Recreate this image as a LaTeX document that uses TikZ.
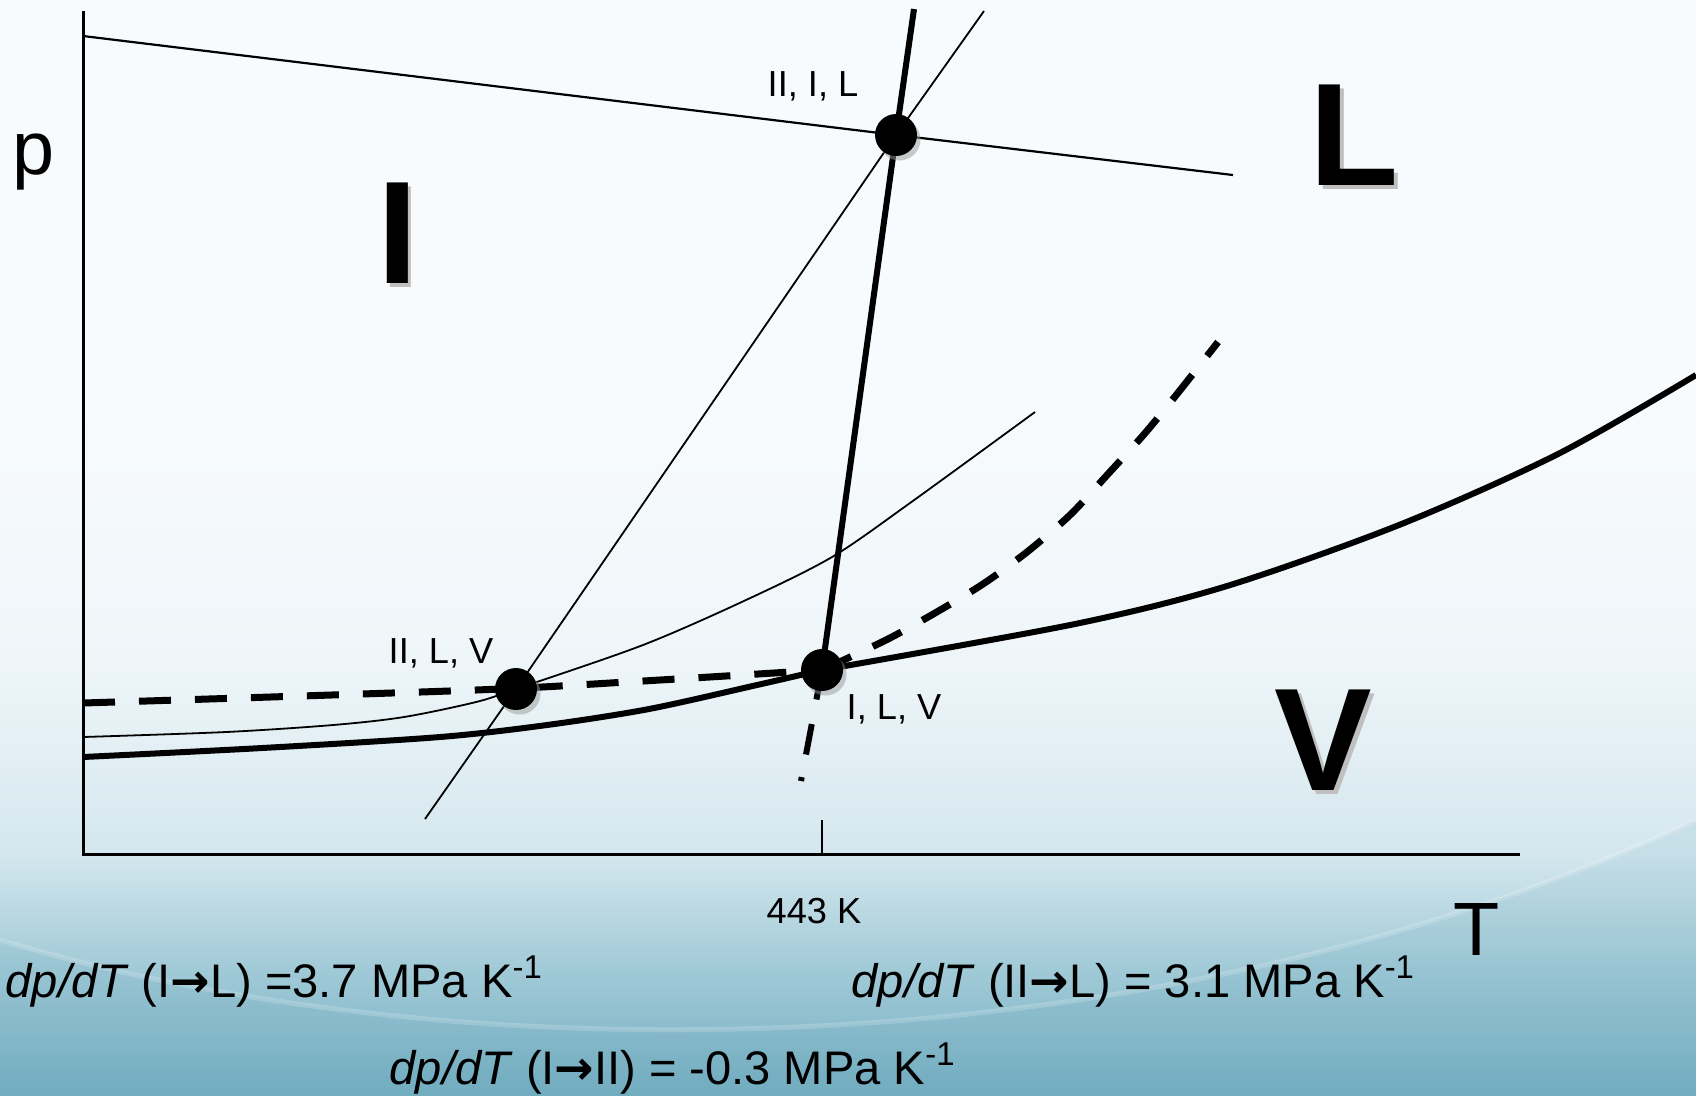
\documentclass[tikz,border=0pt]{standalone}
\usepackage{fontspec}
\setmainfont{Liberation Sans}
\newfontfamily\arrowfont{DejaVu Sans}
\usepackage{tikz}
\usetikzlibrary{positioning, calc, shadows}

\definecolor{bgtop}{RGB}{248,251,253}
\definecolor{bghigh}{RGB}{239,246,249}
\definecolor{bgmid}{RGB}{212,231,238}
\definecolor{bglow}{RGB}{163,203,216}
\definecolor{bgbot}{RGB}{116,174,193}
\definecolor{swoosh}{RGB}{95,160,182}

\pgfdeclareverticalshading{slidebg}{100bp}{color(0bp)=(bgbot); color(25bp)=(bgbot); color(31bp)=(bglow); color(36bp)=(bgmid); color(45bp)=(bghigh); color(57bp)=(bgtop); color(100bp)=(bgtop)}

\newcommand{\phto}{{\arrowfont\bfseries →}}

\tikzset{phasediag/.style={
    x=0.1mm, y=-0.1mm,
    axisline/.style={line width=0.3mm, black},
    boundary/.style={line width=0.6mm, black, line join=round},
    thinboundary/.style={line width=0.18mm, black},
    metastable/.style={line width=0.7mm, black, dash pattern=on 3.2mm off 2.4mm},
    triple/.style={circle, fill=black, inner sep=0pt, minimum size=4.2mm, drop shadow={shadow xshift=0.35mm, shadow yshift=-0.45mm, fill=black!40, opacity=.5}},
    ptlabel/.style={font=\fontsize{10.3}{12}\selectfont, inner sep=0pt, anchor=base},
    axislabel/.style={font=\fontsize{21.5}{24}\selectfont, inner sep=0pt, anchor=base},
    phase/.style={font=\fontsize{41.6}{46}\selectfont\bfseries, inner sep=0pt, anchor=base},
    phaseshadow/.style={phase, text=black!25},
    slope/.style={font=\fontsize{13.4}{16}\selectfont, inner sep=0pt, anchor=base west},
}}

\begin{document}
\begin{tikzpicture}[phasediag]
    \useasboundingbox (0,0) rectangle (1696,1095);
    % slide background
    \shade[shading=slidebg] (0,0) rectangle (1696,1095);
    \fill[swoosh, opacity=.12] (0,940) .. controls (450,1075) and (1150,1075) .. (1696,820) -- (1696,1095) -- (0,1095) -- cycle;
    \draw[white, opacity=.18, line width=0.5mm] (0,940) .. controls (450,1075) and (1150,1075) .. (1696,820);

    % axes
    \coordinate (origin) at (83,854);
    \coordinate (ptop) at (83,11);
    \coordinate (tend) at (1520,854);
    \coordinate (tickbase) at (822,854);
    \coordinate (ticktop) at (822,820);
    \draw[axisline] (ptop) -- (origin) -- (tend);
    \draw[line width=0.25mm] (tickbase) -- (ticktop);

    % triple points and free ends of the boundaries
    \coordinate (iil) at (896,135);
    \coordinate (iilv) at (516,689);
    \coordinate (ilv) at (822,670);
    \coordinate (ilLeft) at (83,36);
    \coordinate (ilRight) at (1233,175);
    \coordinate (iiiTop) at (914,9);
    \coordinate (iiiBottom) at (801,781);
    \coordinate (iilTop) at (984,11);
    \coordinate (iilBottom) at (425,819);
    \coordinate (ivLeft) at (83,757);
    \coordinate (lvRight) at (1696,375);
    \coordinate (iivLeft) at (83,737);
    \coordinate (iivRight) at (1035,412);
    \coordinate (metaLeft) at (83,703);
    \coordinate (metaRight) at (1218,342);

    \draw[thinboundary, line width=0.22mm] (ilLeft) -- (iil) -- (ilRight);
    \draw[thinboundary] (iilTop) -- (iil) -- (iilv) -- (iilBottom);
    \draw[boundary] (iiiTop) -- (iil) -- (ilv);
    \draw[boundary, dash pattern=on 3.0mm off 2.5mm on 3.1mm off 2.3mm on 0.4mm off 5mm] (ilv) -- (iiiBottom);
    \draw[thinboundary] plot[smooth] coordinates {(iivLeft) (226,732) (333,725) (404,717) (476,702) (iilv) (643,645) (746,600) (832,557) (910,503) (iivRight)};
    \draw[boundary] plot[smooth] coordinates {(ivLeft) (262,748) (440,737) (547,725) (649,709) (757,685) (ilv)};
    \draw[boundary] plot[smooth] coordinates {(ilv) (1075,624) (1227,586) (1399,525) (1558,454) (lvRight)};
    \draw[metastable] plot[smooth] coordinates {(metaLeft) (476,690) (643,681) (ilv)};
    \draw[metastable] plot[smooth] coordinates {(ilv) (886,640) (935,613) (983,584) (1027,552) (1070,515) (1108,474) (1146,432) (1181,389) (metaRight)};

    \node[triple] (dotIIL) at (iil) {};
    \node[triple] (dotIILV) at (iilv) {};
    \node[triple] (dotILV) at (ilv) {};

    \node[ptlabel] (lblIIL) at (813,96) {II, I, L};
    \node[ptlabel] (lblIILV) at (441,663) {II, L, V};
    \node[ptlabel] (lblILV) at (894,719) {I, L, V};
    \node[ptlabel] (lblTemp) at (814,923) {443 K};

    \node[axislabel] (lblp) at (34,174) {p};
    \node[axislabel] (lblT) at (1477,955) {T};

    \node[phaseshadow] (shadowI) at (401,287) {I};
    \node[phaseshadow] (shadowL) at (1358,189) {L};
    \node[phaseshadow] (shadowV) at (1327,794) {V};
    \node[phase] (phaseI) at (398,283) {I};
    \node[phase] (phaseL) at (1354,185) {L};
    \node[phase] (phaseV) at (1323,790) {V};

    \node[slope] (slopeIL) at (5,997) {\textit{dp/dT} (I\phto L) =3.7 MPa K\textsuperscript{-1}};
    \node[slope] (slopeIIL) at (851,997) {\textit{dp/dT} (II\phto L) = 3.1 MPa K\textsuperscript{-1}};
    \node[slope] (slopeIII) at (389,1084) {\textit{dp/dT} (I\phto II) = -0.3 MPa K\textsuperscript{-1}};
\end{tikzpicture}
\end{document}
